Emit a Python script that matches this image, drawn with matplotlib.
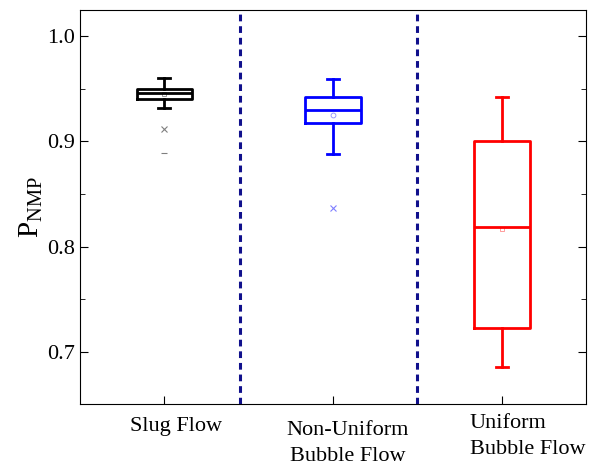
import matplotlib
matplotlib.use("Agg")
import matplotlib.pyplot as plt
from matplotlib.ticker import MultipleLocator, FormatStrFormatter
from matplotlib.transforms import ScaledTranslation, blended_transform_factory

# box statistics
categories = ["Slug Flow", "Non-Uniform\nBubble Flow", "Uniform\nBubble Flow"]
colors = ["black", "#0000ff", "#ff0000"]
whislo = [0.932, 0.888, 0.686]
q1 = [0.940, 0.917, 0.723]
med = [0.946, 0.930, 0.819]
q3 = [0.950, 0.942, 0.900]
whishi = [0.960, 0.959, 0.942]
means = [0.945, 0.925, 0.817]
# 1%/99% marks (x) and min/max marks (-)
pct_marks = [[0.912], [0.837], []]
minmax_marks = [[0.889], [], []]
mean_markers = ["s", "o", "s"]

plt.rcParams['font.family'] = ['Liberation Serif', 'DejaVu Serif']
plt.rcParams['mathtext.fontset'] = 'custom'
plt.rcParams['mathtext.rm'] = 'Liberation Serif'

fig = plt.figure(figsize=(5.95, 4.66), dpi=100)
ax = fig.add_axes([0.1345, 0.133, 0.8505, 0.8455])

positions = [1, 2, 3]
for i, c in enumerate(colors):
    stats = [dict(med=med[i], q1=q1[i], q3=q3[i], whislo=whislo[i],
                  whishi=whishi[i], mean=means[i], fliers=[])]
    lp = dict(color=c, linewidth=2.0)
    ax.bxp(stats, positions=[positions[i]], widths=0.33, capwidths=0.07,
           boxprops=lp, medianprops=lp, whiskerprops=lp, capprops=lp,
           showmeans=True, showfliers=False,
           meanprops=dict(marker=mean_markers[i], markersize=3.5,
                          markerfacecolor="none", markeredgecolor=c,
                          markeredgewidth=0.6, alpha=0.45))
    if pct_marks[i]:
        ax.plot([positions[i]] * len(pct_marks[i]), pct_marks[i], "x",
                color=c, markersize=4, markeredgewidth=0.8, alpha=0.5)
    if minmax_marks[i]:
        ax.plot([positions[i]] * len(minmax_marks[i]), minmax_marks[i], "_",
                color=c, markersize=5, markeredgewidth=0.8, alpha=0.5)

# dashed separators between regimes
for xs in [1.45, 2.5]:
    ax.axvline(xs, color="#10108c", linestyle=(0, (2.2, 1.6)), linewidth=2.2)

ax.set_xlim(0.5, 3.5)
ax.set_ylim(0.6505, 1.0248)
ax.set_xticks(positions)
ax.set_xticklabels([])

# category labels, slightly off-centre like the original
trans = blended_transform_factory(ax.transData, ax.transAxes)
shifts = [(12, 13), (15, 17), (26, 10)]
aligns = ["center", "center", "left"]
for pos, text, (dx, dy), al in zip(positions, categories, shifts, aligns):
    off = ScaledTranslation(dx / 100, -dy / 100, fig.dpi_scale_trans)
    ax.text(pos, 0, text, transform=trans + off, ha="center", va="top",
            fontsize=16, linespacing=1.5, multialignment=al)

ax.yaxis.set_major_locator(MultipleLocator(0.1))
ax.yaxis.set_minor_locator(MultipleLocator(0.05))
ax.yaxis.set_major_formatter(FormatStrFormatter("%.1f"))
ax.tick_params(axis="y", which="both", direction="in", right=True, labelsize=16)
ax.tick_params(axis="y", which="major", length=6)
ax.tick_params(axis="y", which="minor", length=3.5)
ax.tick_params(axis="x", direction="in", length=6)
ax.set_ylabel(r"P$_{\rm NMP}$", fontsize=21, labelpad=2)

fig.savefig("out.png", dpi=100)
